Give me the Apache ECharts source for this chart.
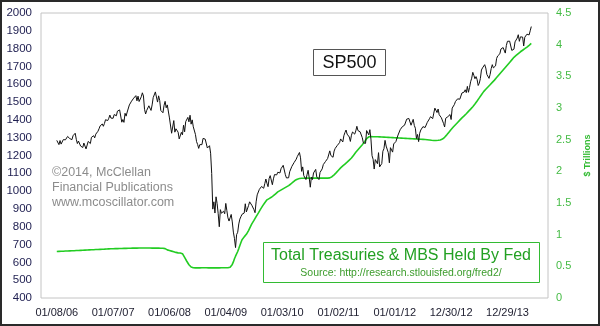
<!DOCTYPE html>
<html>
<head>
<meta charset="utf-8">
<script src="https://cdn.jsdelivr.net/npm/echarts@6/dist/echarts.min.js"></script>
<style>
  html, body { margin: 0; padding: 0; background: #fff; }
  #chart { width: 600px; height: 326px; }
</style>
</head>
<body>
<div id="chart"></div>
<script>
// Weekly series, one value per week starting Sunday 2006-01-08.
const firstWeek = '2006-01-08';

// S&P 500 weekly close
const sp500 = [
  1285,1288,1261,1284,1264,1267,1289,1289,1288,1282,1307,1302,1295,
  1295,1289,1311,1310,1325,1291,1267,1281,1288,1253,1252,1245,1270,
  1266,1237,1240,1279,1280,1267,1302,1296,1311,1299,1320,1314,1336,
  1350,1366,1368,1377,1364,1380,1401,1400,1396,1409,1427,1410,1418,
  1409,1430,1431,1423,1449,1438,1456,1451,1387,1402,1386,1437,1421,
  1444,1453,1484,1495,1505,1505,1522,1515,1536,1507,1533,1503,1503,
  1530,1552,1534,1459,1433,1453,1445,1479,1474,1453,1484,1525,1527,
  1557,1561,1500,1535,1509,1453,1458,1440,1481,1504,1468,1484,1478,
  1411,1401,1325,1330,1396,1331,1350,1353,1331,1293,1288,1330,1316,
  1370,1333,1390,1398,1414,1389,1426,1376,1400,1361,1360,1318,1278,
  1262,1240,1261,1257,1261,1296,1298,1292,1283,1242,1252,1255,1213,
  1099,899,940,877,968,930,873,800,896,876,879,887,873,
  931,890,850,832,826,869,827,770,735,683,756,769,816,
  843,857,870,866,877,929,883,887,919,940,946,921,918,
  896,879,940,979,987,1010,1005,1026,1029,1016,1042,1068,1044,
  1025,1071,1087,1080,1036,1069,1093,1091,1091,1106,1106,1102,1126,
  1115,1145,1136,1092,1074,1066,1075,1109,1105,1139,1150,1160,1167,
  1179,1194,1192,1217,1187,1111,1136,1087,1089,1065,1092,1117,1076,
  1022,1078,1065,1102,1102,1122,1079,1072,1065,1105,1110,1125,1149,
  1147,1166,1176,1183,1183,1226,1200,1199,1190,1225,1240,1244,1257,
  1258,1272,1293,1283,1276,1311,1329,1343,1320,1321,1304,1279,1314,
  1332,1328,1320,1338,1364,1340,1338,1333,1331,1300,1271,1271,1268,
  1340,1344,1316,1345,1292,1199,1179,1124,1177,1174,1154,1216,1136,
  1131,1155,1224,1238,1285,1253,1263,1216,1159,1244,1255,1219,1265,
  1258,1278,1289,1315,1316,1345,1342,1362,1366,1370,1371,1404,1397,
  1408,1398,1370,1379,1403,1369,1353,1295,1318,1278,1325,1343,1335,
  1362,1355,1357,1363,1386,1391,1406,1418,1411,1407,1438,1466,1460,
  1441,1461,1429,1433,1412,1414,1380,1360,1409,1416,1418,1413,1430,
  1402,1466,1472,1486,1503,1513,1518,1520,1516,1518,1551,1561,1556,
  1569,1553,1588,1555,1582,1614,1634,1667,1650,1631,1643,1626,1593,
  1606,1632,1680,1692,1691,1710,1691,1655,1664,1633,1655,1688,1710,
  1692,1690,1703,1745,1759,1762,1771,1798,1805,1806,1805,1775,1818,
  1841,1831,1842,1838,1790,1783,1797,1838,1836,1859,1878,1841,1866,
  1857,1865,1815,1864,1863,1881,1878,1877,1900,1924
];

// Treasuries + MBS held by the Fed, $ trillions
const fedHoldings = [
  0.734,0.735,0.736,0.737,0.738,0.738,0.739,0.740,0.741,0.742,0.742,0.743,0.744,
  0.745,0.746,0.746,0.747,0.748,0.749,0.750,0.750,0.751,0.752,0.753,0.754,0.755,
  0.756,0.757,0.758,0.759,0.760,0.760,0.761,0.762,0.763,0.764,0.765,0.766,0.766,
  0.767,0.768,0.769,0.770,0.770,0.771,0.772,0.773,0.774,0.775,0.776,0.777,0.778,
  0.778,0.779,0.779,0.780,0.780,0.781,0.781,0.782,0.782,0.783,0.783,0.784,0.784,
  0.785,0.785,0.786,0.786,0.787,0.787,0.787,0.788,0.788,0.788,0.789,0.789,0.789,
  0.790,0.790,0.790,0.790,0.790,0.790,0.789,0.789,0.789,0.789,0.788,0.788,0.788,
  0.788,0.788,0.787,0.787,0.787,0.786,0.786,0.785,0.785,0.780,0.770,0.760,0.755,
  0.750,0.745,0.740,0.735,0.730,0.725,0.720,0.715,0.713,0.712,0.710,0.705,0.700,
  0.670,0.640,0.610,0.580,0.550,0.525,0.505,0.490,0.482,0.478,0.476,0.475,0.475,
  0.475,0.476,0.476,0.477,0.477,0.478,0.478,0.478,0.477,0.477,0.476,0.476,0.476,
  0.476,0.476,0.476,0.476,0.476,0.476,0.476,0.476,0.477,0.477,0.477,0.477,0.477,
  0.478,0.478,0.478,0.480,0.485,0.500,0.530,0.570,0.620,0.660,0.690,0.734,0.780,
  0.830,0.875,0.920,0.945,0.965,0.985,1.005,1.030,1.065,1.100,1.135,1.170,1.200,
  1.225,1.255,1.285,1.310,1.340,1.370,1.400,1.430,1.455,1.480,1.505,1.530,1.550,
  1.560,1.570,1.580,1.590,1.600,1.615,1.630,1.645,1.660,1.675,1.685,1.695,1.705,
  1.715,1.725,1.735,1.745,1.755,1.765,1.775,1.785,1.800,1.815,1.830,1.845,1.858,
  1.868,1.876,1.882,1.886,1.888,1.890,1.890,1.891,1.891,1.892,1.892,1.892,1.893,
  1.893,1.893,1.893,1.893,1.893,1.893,1.893,1.892,1.892,1.892,1.892,1.892,1.892,
  1.892,1.892,1.893,1.893,1.894,1.896,1.900,1.915,1.930,1.945,1.960,1.980,2.000,
  2.018,2.036,2.054,2.070,2.085,2.100,2.115,2.130,2.145,2.162,2.178,2.194,2.210,
  2.232,2.254,2.276,2.300,2.320,2.340,2.360,2.380,2.400,2.420,2.440,2.465,2.490,
  2.515,2.535,2.545,2.548,2.548,2.547,2.547,2.546,2.546,2.545,2.545,2.544,2.544,
  2.543,2.542,2.541,2.540,2.539,2.538,2.537,2.536,2.535,2.534,2.533,2.532,2.531,
  2.530,2.529,2.528,2.527,2.526,2.525,2.524,2.523,2.522,2.521,2.520,2.519,2.518,
  2.517,2.516,2.515,2.514,2.513,2.512,2.511,2.510,2.509,2.508,2.507,2.506,2.505,
  2.504,2.503,2.502,2.500,2.498,2.496,2.494,2.492,2.490,2.489,2.488,2.488,2.488,
  2.489,2.490,2.492,2.496,2.502,2.510,2.522,2.538,2.556,2.576,2.596,2.618,2.640,
  2.660,2.680,2.700,2.718,2.736,2.754,2.772,2.790,2.808,2.826,2.844,2.860,2.875,
  2.892,2.910,2.928,2.946,2.964,2.982,3.000,3.020,3.040,3.062,3.085,3.110,3.135,
  3.160,3.185,3.210,3.235,3.258,3.278,3.296,3.314,3.332,3.350,3.368,3.386,3.404,
  3.422,3.440,3.460,3.480,3.500,3.520,3.540,3.560,3.580,3.600,3.620,3.640,3.660,
  3.680,3.700,3.720,3.740,3.760,3.780,3.800,3.815,3.830,3.845,3.860,3.875,3.888,
  3.900,3.912,3.924,3.936,3.948,3.962,3.976,3.990,4.005,4.020
];

// Date labels on the horizontal axis
const dateTicks = ['01/08/06','01/07/07','01/06/08','01/04/09','01/03/10',
                   '01/02/11','01/01/12','12/30/12','12/29/13'];

const DAY = 86400000;
function parseIso(s) { const p = s.split('-').map(Number); return Date.UTC(p[0], p[1] - 1, p[2]); }
function parseTick(s) { const p = s.split('/').map(Number); return Date.UTC(2000 + p[2], p[0] - 1, p[1]); }

const t0 = parseIso(firstWeek);
const weekTimes = sp500.map((_, i) => t0 + i * 7 * DAY);
const tickTimes = dateTicks.map(parseTick);

const spData = sp500.map((v, i) => [weekTimes[i], v]);
const fedData = fedHoldings.map((v, i) => [weekTimes[i], v]);

const chart = echarts.init(document.getElementById('chart'), null, { renderer: 'canvas' });

const font = 'Arial, "Liberation Sans", Helvetica, sans-serif';

chart.setOption({
  animation: false,
  backgroundColor: '#ffffff',
  grid: {
    left: 41, right: 46, top: 13, bottom: 28,
    show: true, borderColor: '#c4c4c4', borderWidth: 1, backgroundColor: 'transparent'
  },
  xAxis: {
    // numeric axis over UTC timestamps; labels placed on the dates listed above
    type: 'value',
    min: t0 - 102 * DAY,
    max: t0 + 3174 * DAY,
    axisLine: { show: false },
    axisTick: { show: false },
    splitLine: { show: false },
    axisLabel: {
      customValues: tickTimes,
      margin: 9,
      fontFamily: font, fontSize: 11, color: '#222233',
      formatter: function (val) {
        let best = 0, d = Infinity;
        tickTimes.forEach((t, i) => { const dd = Math.abs(t - val); if (dd < d) { d = dd; best = i; } });
        return dateTicks[best];
      }
    }
  },
  yAxis: [
    {
      type: 'value', position: 'left', min: 400, max: 2000, interval: 100,
      axisLine: { show: false }, axisTick: { show: false }, splitLine: { show: false },
      axisLabel: { margin: 9, fontFamily: font, fontSize: 11.5, color: '#1e1e50',
                   formatter: (v) => String(v) }
    },
    {
      type: 'value', position: 'right', min: 0, max: 4.5, interval: 0.5,
      name: '$ Trillions', nameLocation: 'middle', nameRotate: 90, nameGap: 35,
      nameTextStyle: { fontFamily: font, fontSize: 9, fontWeight: 'bold', color: '#33bb33' },
      axisLine: { show: false }, axisTick: { show: false }, splitLine: { show: false },
      axisLabel: { margin: 8, fontFamily: font, fontSize: 11, color: '#44bb44',
                   formatter: (v) => String(v) }
    }
  ],
  series: [
    {
      name: 'Total Treasuries & MBS Held By Fed', type: 'line', yAxisIndex: 1,
      data: fedData, showSymbol: false, symbol: 'none',
      lineStyle: { color: '#22cc22', width: 1.6 }, z: 2
    },
    {
      name: 'SP500', type: 'line', yAxisIndex: 0,
      data: spData, showSymbol: false, symbol: 'none',
      lineStyle: { color: '#111111', width: 1 }, z: 3
    }
  ],
  graphic: [
    // outer frame
    { type: 'rect', z: 100, silent: true, shape: { x: 1, y: 1, width: 598, height: 324 },
      style: { fill: 'none', stroke: '#2a2a2a', lineWidth: 2 } },
    // SP500 label box
    { type: 'rect', z: 50, shape: { x: 313.5, y: 49.5, width: 72, height: 26 },
      style: { fill: '#ffffff', stroke: '#555555', lineWidth: 1 } },
    { type: 'text', z: 51, x: 349.5, y: 63,
      style: { text: 'SP500', fontFamily: font, fontSize: 18, fill: '#111111', align: 'center', verticalAlign: 'middle' } },
    // copyright block
    { type: 'text', z: 50, x: 52, y: 173,
      style: { text: '©2014, McClellan', fontFamily: font, fontSize: 12.5, fill: '#8c8c8c', align: 'left', verticalAlign: 'middle' } },
    { type: 'text', z: 50, x: 52, y: 188,
      style: { text: 'Financial Publications', fontFamily: font, fontSize: 12.5, fill: '#8c8c8c', align: 'left', verticalAlign: 'middle' } },
    { type: 'text', z: 50, x: 52, y: 203,
      style: { text: 'www.mcoscillator.com', fontFamily: font, fontSize: 12.5, fill: '#8c8c8c', align: 'left', verticalAlign: 'middle' } },
    // series legend box
    { type: 'rect', z: 50, shape: { x: 263.5, y: 242.5, width: 276, height: 40 },
      style: { fill: '#ffffff', stroke: '#33bb33', lineWidth: 1 } },
    { type: 'text', z: 51, x: 401, y: 255.5,
      style: { text: 'Total Treasuries & MBS Held By Fed', fontFamily: font, fontSize: 16, fill: '#22a022', align: 'center', verticalAlign: 'middle' } },
    { type: 'text', z: 51, x: 401, y: 273.5,
      style: { text: 'Source: http://research.stlouisfed.org/fred2/', fontFamily: font, fontSize: 10.5, fill: '#3c9c2c', align: 'center', verticalAlign: 'middle' } }
  ]
});
</script>
</body>
</html>
